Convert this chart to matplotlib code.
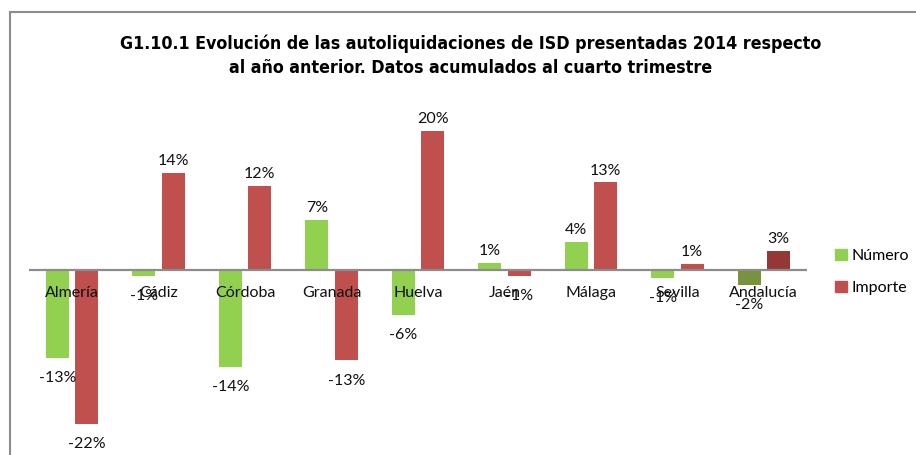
import matplotlib
matplotlib.use("Agg")
import matplotlib.pyplot as plt
from matplotlib.patches import Rectangle, Patch
from matplotlib import font_manager
import numpy as np

categories = ["Almería", "Cádiz", "Córdoba", "Granada", "Huelva", "Jaén", "Málaga", "Sevilla", "Andalucía"]
numero = [-12.6, -0.9, -14.0, 7.2, -6.5, 1.0, 4.0, -1.2, -2.2]
importe = [-22.2, 14.0, 12.1, -13.0, 20.0, -0.9, 12.6, 0.9, 2.7]
series_names = ["Número", "Importe"]
title = "G1.10.1 Evolución de las autoliquidaciones de ISD presentadas 2014 respecto\nal año anterior. Datos acumulados al cuarto trimestre"

green, red = "#92D050", "#C0504D"
dgreen, dred = "#77933C", "#953735"

plt.rcParams['font.family'] = ['Lato', 'DejaVu Sans']

# find a condensed bold font for the title, if any
cond = None
for f in font_manager.fontManager.ttflist:
    n = f.name.lower()
    if ("condensed" in n or "narrow" in n) or f.stretch in ("condensed", "semi-condensed", "extra-condensed"):
        cond = f
        if f.weight in ("bold", 700):
            break

W, H = 916, 455
fig = plt.figure(figsize=(W / 100, H / 100), dpi=100)

fig.patches.append(Rectangle((10 / W, -0.1), 1.2, (H - 12) / H + 0.1, transform=fig.transFigure,
                             fill=False, edgecolor="#8c8c8c", lw=1.5))

px_per = 6.95
top_px = 270 - 25 * px_per
bot_px = 270 + 25 * px_per
ax = fig.add_axes([29 / W, (H - bot_px) / H, (807 - 29) / W, (bot_px - top_px) / H])
ax.set_xlim(-0.5, len(categories) - 0.5)
ax.set_ylim(-25, 25)
ax.axis("off")

x = np.arange(len(categories))
bw = 0.266
off = 0.17
cn = [green] * (len(categories) - 1) + [dgreen]
ci = [red] * (len(categories) - 1) + [dred]
ax.bar(x - off, numero, bw, color=cn, zorder=2)
ax.bar(x + off, importe, bw, color=ci, zorder=2)
ax.axhline(0, color="#8c8c8c", lw=1.6, zorder=3)

fs = 11.5
for xs, vals in ((x - off, numero), (x + off, importe)):
    for xi, v in zip(xs, vals):
        if v >= 0:
            ax.text(xi, v + 1.7, f"{v:.0f}%", ha="center", va="center", fontsize=fs, color="#111111", zorder=5)
        else:
            ax.text(xi, v - 2.9, f"{v:.0f}%", ha="center", va="center", fontsize=fs, color="#111111", zorder=5)

for xi, c in zip(x, categories):
    ax.text(xi, -3.3, c, ha="center", va="center", fontsize=fs, color="#111111", zorder=4)

if cond is not None:
    tkw = dict(fontproperties=font_manager.FontProperties(fname=cond.fname, size=12.8, weight="bold"))
else:
    tkw = dict(family=['DejaVu Sans'], fontsize=11.5, fontweight="bold")
fig.text(0.5137, (H - 56) / H, title, ha="center", va="center", linespacing=1.45, **tkw)

handles = [Patch(color=green), Patch(color=red)]
fig.legend(handles, series_names, loc="center left", bbox_to_anchor=(821 / W, (H - 272) / H),
           frameon=False, fontsize=fs, handlelength=0.7, handleheight=0.7, handletextpad=0.3,
           labelspacing=1.15)

fig.savefig("out.png", dpi=100)
